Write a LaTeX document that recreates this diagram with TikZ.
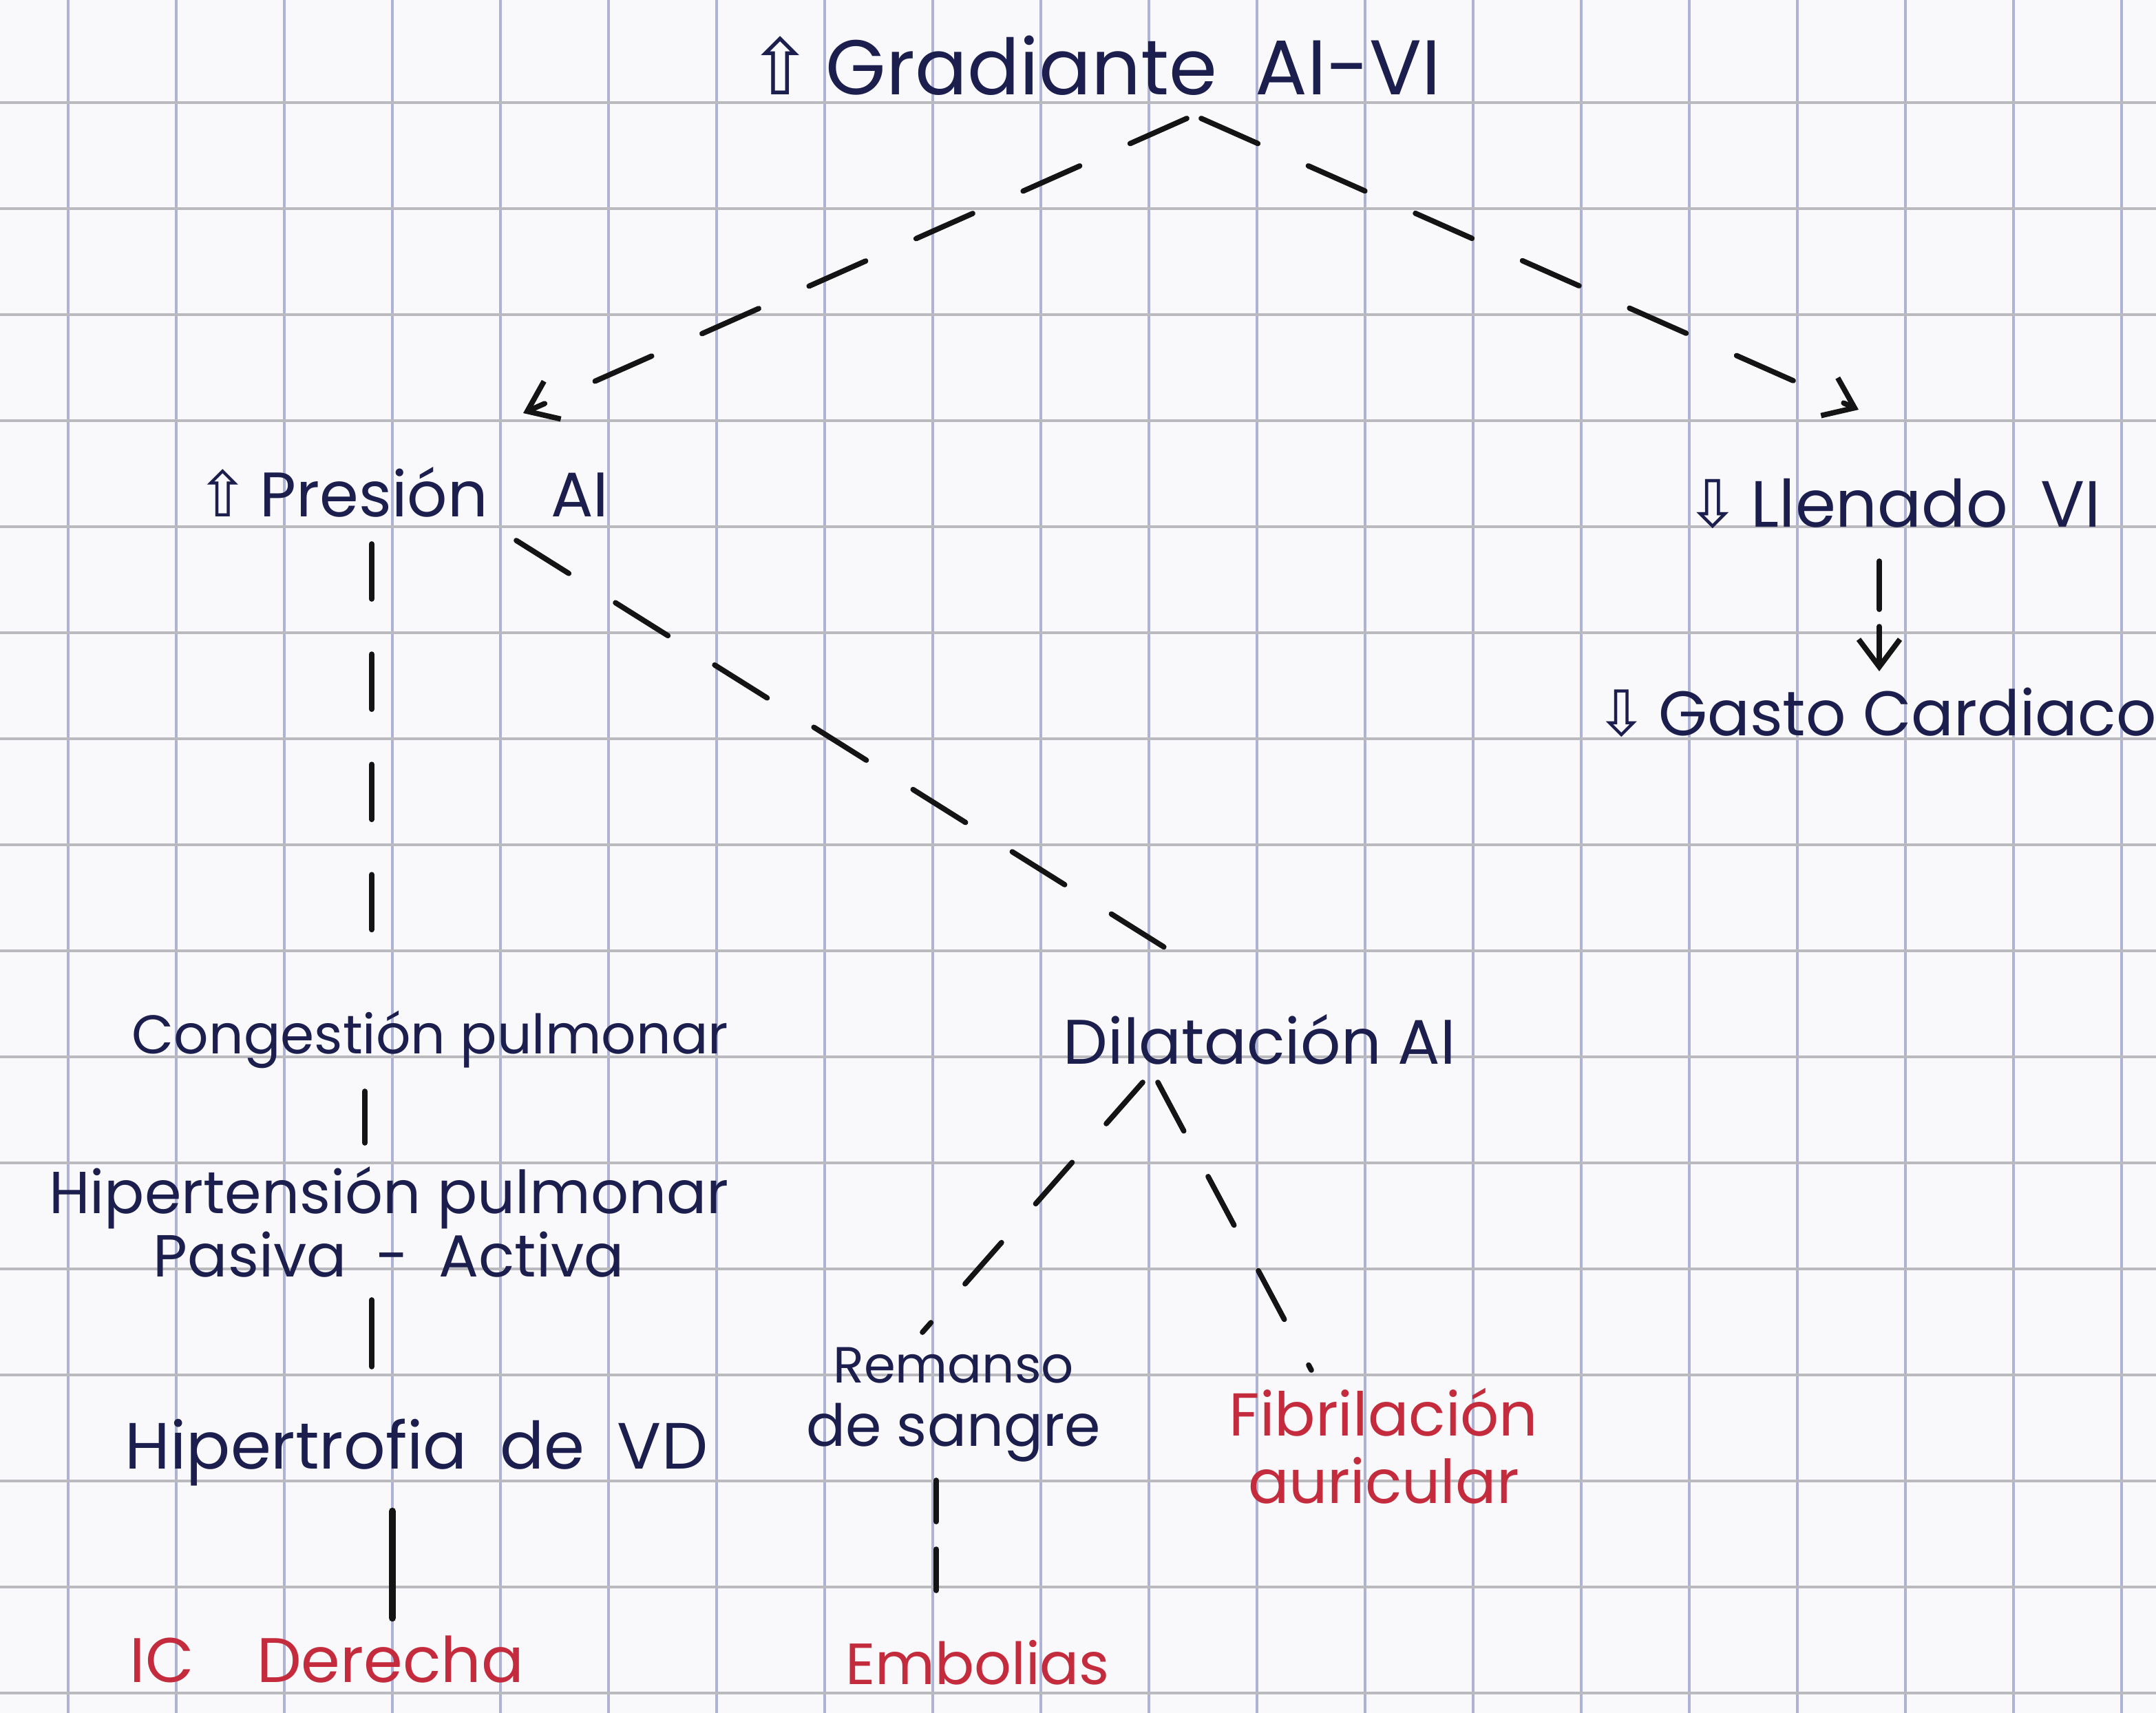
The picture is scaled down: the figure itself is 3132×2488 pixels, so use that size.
\documentclass[tikz,border=0pt]{standalone}
\usepackage{fontspec}
\setmainfont{Poppins}
\newfontfamily\symfont{DejaVu Sans}
\usetikzlibrary{arrows.meta}
\definecolor{ink}{HTML}{1C1F4E}
\definecolor{redink}{HTML}{C42B3C}
\definecolor{vline}{HTML}{AEB2D6}
\definecolor{hline}{HTML}{B9B9BE}
\definecolor{paper}{HTML}{F9F9FB}
\definecolor{pen}{HTML}{141414}
\begin{document}
\begin{tikzpicture}[x=0.01cm,y=-0.01cm,
  txt/.style={text=ink,inner sep=0pt,align=center,font=\fontsize{24}{26}\selectfont},
  redtxt/.style={txt,text=redink},
  con/.style={draw=pen,line width=2.2pt,line cap=round},
  dsh/.style={con,dash pattern=on 0.9cm off 0.8cm},
  tip/.style={-{Straight Barb[length=4mm,width=6mm]}},
  gridv/.style={draw=vline,line width=1.2pt},
  gridh/.style={draw=hline,line width=1.2pt}
]
\fill[paper] (0,0) rectangle (3132,2488);
\useasboundingbox (0,0) rectangle (3132,2488);
\foreach \k in {0,...,19} \draw[gridv] ({99+157*\k},0) -- ({99+157*\k},2488);
\foreach \k in {0,...,15} \draw[gridh] (0,{149+154*\k}) -- (3132,{149+154*\k});

% nodes
\node[txt,font=\fontsize{32}{36}\selectfont] (grad) at (1590,95) {{\symfont ⇧}\,Gradiante\enspace AI-VI};
\node[txt,font=\fontsize{26}{32}\selectfont] (pres) at (585,715) {{\symfont ⇧}\,Presión\quad AI};
\node[txt,font=\fontsize{27}{32}\selectfont] (llen) at (2750,732) {{\symfont ⇩}\,Llenado\enspace VI};
\node[txt,font=\fontsize{26}{32}\selectfont] (gasto) at (2725,1035) {{\symfont ⇩}\,Gasto Cardiaco};
\node[txt,font=\fontsize{22.5}{26}\selectfont] (cong) at (625,1510) {Congestión pulmonar};
\node[txt,font=\fontsize{26}{30}\selectfont] (dil) at (1830,1510) {Dilatación AI};
\node[txt,font=\fontsize{24.5}{26}\selectfont] (hip) at (565,1775) {Hipertensión pulmonar\\Pasiva\enspace -\enspace Activa};
\node[txt,font=\fontsize{27}{30}\selectfont] (hvd) at (605,2110) {Hipertrofia\enspace de\enspace VD};
\node[txt] (rem) at (1385,2040) {{\fontsize{21}{26}\selectfont Remanso}\\de sangre};
\node[redtxt,font=\fontsize{25}{28}\selectfont] (fib) at (2010,2100) {Fibrilación\\auricular};
\node[redtxt,font=\fontsize{26}{30}\selectfont] (ic) at (475,2410) {IC\quad Derecha};
\node[redtxt] (emb) at (1420,2415) {Embolias};

% connector ends
\coordinate (gL) at (1724,172);
\coordinate (gR) at (1745,172);
\coordinate (pT) at (760,600);
\coordinate (lT) at (2700,595);
\coordinate (pR) at (750,785);
\coordinate (dT) at (1730,1400);
\coordinate (pB) at (540,790);
\coordinate (cT) at (540,1390);
\coordinate (cB) at (530,1585);
\coordinate (hT) at (530,1660);
\coordinate (hB) at (540,1888);
\coordinate (vT) at (540,1985);
\coordinate (vB) at (570,2195);
\coordinate (iT) at (570,2350);
\coordinate (dBL) at (1660,1572);
\coordinate (rT) at (1340,1935);
\coordinate (dBR) at (1682,1572);
\coordinate (fT) at (1905,1990);
\coordinate (rB) at (1360,2150);
\coordinate (eT) at (1360,2310);
\coordinate (lB) at (2730,815);
\coordinate (gsT) at (2730,975);

\draw[dsh,tip] (gL) -- (pT);
\draw[dsh,tip] (gR) -- (lT);
\draw[dsh] (pR) -- (dT);
\draw[dsh,dash pattern=on 0.8cm off 0.8cm] (pB) -- (cT);
\draw[con] (cB) -- (hT);
\draw[con] (hB) -- (vT);
\draw[con,line width=3pt] (vB) -- (iT);
\draw[dsh,dash pattern=on 0.8cm off 0.75cm] (dBL) -- (rT);
\draw[dsh,dash pattern=on 0.8cm off 0.75cm] (dBR) -- (fT);
\draw[dsh,dash pattern=on 0.6cm off 0.4cm] (rB) -- (eT);
\draw[dsh,tip,dash pattern=on 0.7cm off 0.25cm] (lB) -- (gsT);
\end{tikzpicture}
\end{document}
